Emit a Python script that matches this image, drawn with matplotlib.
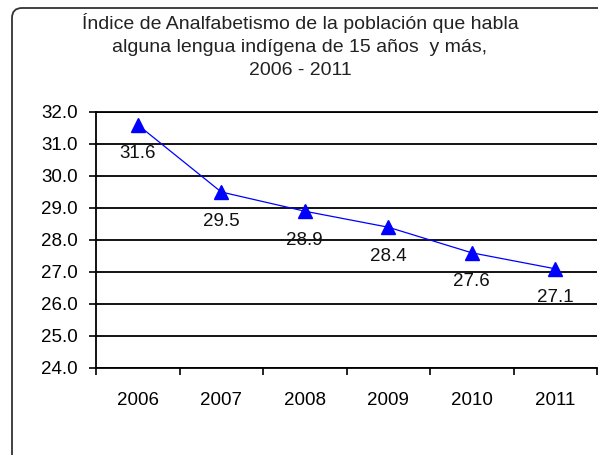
import matplotlib
matplotlib.use("Agg")
import matplotlib.pyplot as plt
from matplotlib.patches import FancyBboxPatch
from matplotlib.transforms import IdentityTransform

years = ["2006", "2007", "2008", "2009", "2010", "2011"]
values = [31.6, 29.5, 28.9, 28.4, 27.6, 27.1]
yticks = [24.0, 25.0, 26.0, 27.0, 28.0, 29.0, 30.0, 31.0, 32.0]
title = "Índice de Analfabetismo de la población que habla\nalguna lengua indígena de 15 años  y más,\n2006 - 2011"

plt.rcParams['font.family'] = ['Liberation Sans', 'DejaVu Sans']

W, H = 598, 455
fig = plt.figure(figsize=(W / 100, H / 100), dpi=100)
fig.patch.set_facecolor("white")

# rounded border
border = FancyBboxPatch((12, -20), 620, H - 8 + 20,
                        boxstyle="round,pad=0,rounding_size=10",
                        transform=IdentityTransform(), fill=False,
                        edgecolor="#333333", linewidth=1.3, zorder=0)
fig.patches.append(border)

ax = fig.add_axes([96 / W, (H - 368) / H, 501 / W, 256 / H])
x = list(range(len(years)))
ax.plot(x, values, color="blue", linewidth=0.9, marker="^", markersize=10,
        markerfacecolor="blue", markeredgecolor="blue", zorder=3)
for xi, v in zip(x, values):
    ax.annotate(f"{v:.1f}", (xi, v), xytext=(0, -29), textcoords="offset pixels",
                ha="center", va="center", fontsize=13.5, color="#111111")

ax.set_xlim(-0.5, len(years) - 0.5)
ax.set_ylim(24, 32)
ax.set_yticks(yticks)
ax.set_yticklabels([f"{t:.1f}" for t in yticks], fontsize=13.5)
ax.set_xticks(x)
ax.set_xticklabels(years, fontsize=13.5)
ax.set_xticks([i + 0.5 for i in range(-1, len(years))], minor=True)
ax.tick_params(axis="x", which="major", length=0, pad=17)
ax.tick_params(axis="x", which="minor", length=5, width=1.2, direction="out")
ax.tick_params(axis="y", length=5, width=1.2, direction="out", pad=8)
ax.grid(axis="y", color="black", linewidth=1.3)
for s in ["left", "bottom", "top"]:
    ax.spines[s].set_linewidth(1.3)
ax.spines["right"].set_visible(False)

fig.text(300 / W, 1 - 46 / H, title, ha="center", va="center", fontsize=14,
         linespacing=1.47, color="#222222")

fig.savefig("out.png", dpi=100)
